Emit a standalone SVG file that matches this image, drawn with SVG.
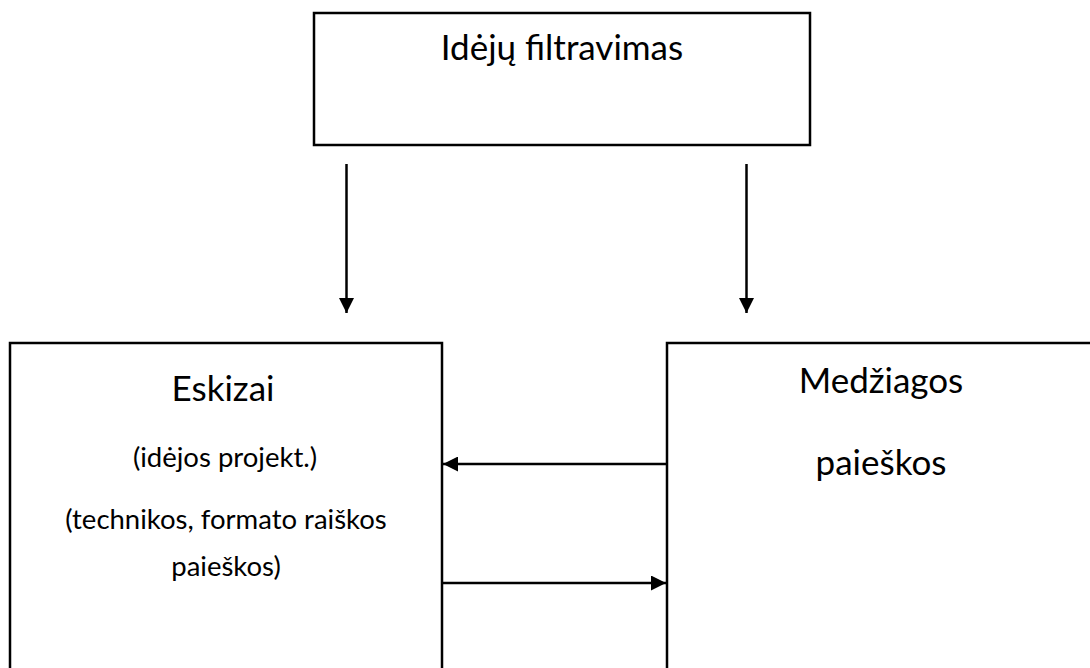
<svg xmlns="http://www.w3.org/2000/svg" width="1090" height="668" viewBox="0 0 1090 668">
<style>
.box{fill:#fff;stroke:#000;stroke-width:2.5}
.big{font-family:Lato,"Open Sans","Liberation Sans",sans-serif;font-size:35px;fill:#000;text-anchor:middle}
.small{font-family:Lato,"Open Sans","Liberation Sans",sans-serif;font-size:27.5px;fill:#000;text-anchor:middle}
.conn{stroke:#000;stroke-width:2.5;fill:none;marker-end:url(#ah)}
</style>
<defs>
<marker id="ah" viewBox="0 0 10 10" refX="10" refY="5" markerWidth="15" markerHeight="15" markerUnits="userSpaceOnUse" orient="auto">
<path d="M0,0 L10,5 L0,10 Z" fill="#000"/>
</marker>
</defs>
<rect width="1090" height="668" fill="#fff"/>
<g id="node-filtravimas">
<rect class="box" x="314" y="13" width="496" height="132"/>
<text class="big" x="562" y="60">Idėjų filtravimas</text>
</g>
<g id="node-eskizai">
<rect class="box" x="10" y="343" width="432" height="340"/>
<text class="big" x="223" y="401">Eskizai</text>
<text class="small" x="225" y="467">(idėjos projekt.)</text>
<text class="small" x="226" y="529">(technikos, formato raiškos</text>
<text class="small" x="226" y="576">paieškos)</text>
</g>
<g id="node-medziagos">
<rect class="box" x="667" y="343" width="440" height="340"/>
<text class="big" x="881" y="393">Medžiagos</text>
<text class="big" x="881" y="475">paieškos</text>
</g>
<g id="connectors">
<line class="conn" x1="346.5" y1="164" x2="346.5" y2="313"/>
<line class="conn" x1="746.5" y1="164" x2="746.5" y2="313"/>
<line class="conn" x1="667" y1="464" x2="443" y2="464"/>
<line class="conn" x1="442" y1="583" x2="666" y2="583"/>
</g>
</svg>
